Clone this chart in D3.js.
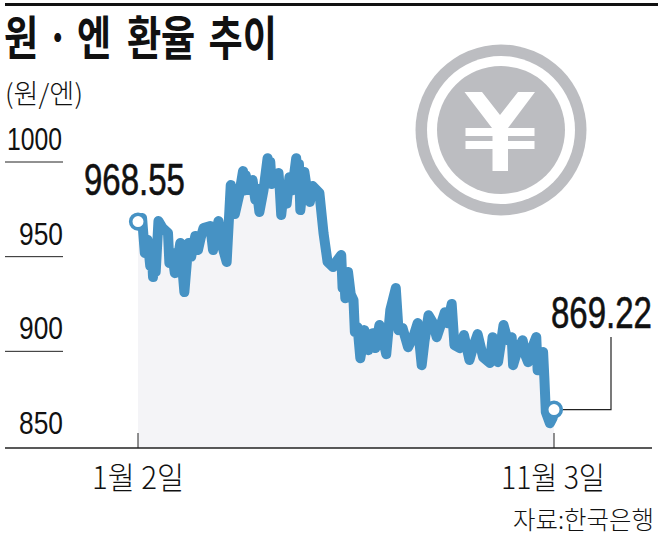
<!DOCTYPE html>
<html><head><meta charset="utf-8">
<script src="https://cdn.jsdelivr.net/npm/d3@7"></script>
<style>html,body{margin:0;padding:0;background:#fff}svg{display:block}
text{font-family:"Liberation Sans",sans-serif;fill:#111}
.ko{font-family:"Noto Sans CJK KR",sans-serif}</style></head>
<body><svg id="c" width="658" height="537"></svg>
<script>
const unit = "(원/엔)";
const source = "자료:한국은행";
const yTicks = [1000, 950, 900, 850];
const xTickDays = [0, 305];
const xTickLabels = ["1월 2일", "11월 3일"];
const days = [0,3,5,7,9,10,11,12,13,15,18,22,23,25,27,29,31,34,37,39,42,44,46,48,53,55,57,59,62,65,68,69,70,71,74,77,78,79,81,84,86,87,89,92,95,96,97,98,101,103,104,105,107,109,111,113,116,117,118,119,122,124,126,128,133,136,139,143,146,149,150,151,152,154,156,158,159,161,163,165,166,169,172,174,177,180,182,185,189,191,194,198,202,205,207,208,210,213,216,219,222,225,227,230,232,236,239,243,246,249,253,258,260,262,264,268,271,274,275,278,282,284,286,289,292,293,297,298,299,302,304,305];
const rates = [968.55,970.4,951.9,958.8,945,955,939.2,950,942,968.8,965.1,962.5,946.6,952,941.3,948,957.2,931.3,957.2,950,960.9,953.5,960,965.1,966.2,953.5,962,968.8,955,947.2,987.8,975,986,972.5,982,995.2,985,993,985.2,990.5,980,986,973.6,985,1002,992,1000,988.4,990,994.2,985,972,985,978,992,985,1002,990,999,974.6,994.7,985,978.9,987.3,983.6,962.5,947.2,944.5,948,950.9,933.4,941.4,928,941.9,930,927,910.2,912.8,896.4,905,911.2,900.6,909.6,901.7,913.9,905,898.5,921.8,933.4,911.2,912.3,902.2,908,914.9,900,892.7,905,919.1,915.4,907.5,914,920.7,914.9,925,903.3,901.7,908.6,895.4,903,909.1,896.9,893.8,907.5,898,894.3,913.9,905.9,907.5,892.7,900,905.9,898,894.3,902,907.5,890,899.6,884.8,867.9,862,864.8,869.22];
const startLabel = "968.55", endLabel = "869.22";

const svg = d3.select("#c");
const x = d3.scaleLinear().domain([0, 305]).range([138, 554]);
const y = d3.scaleLinear().domain([1000, 850]).range([162, 446]);
const data = days.map((d, i) => ({d, v: rates[i]}));
const axisY = 448;

function fit(sel, x0, w, base) {
  const n = sel.node();
  const b = n.getBBox();
  const sx = w / b.width;
  sel.attr("transform", `translate(${x0 - b.x * sx},${base}) scale(${sx},1)`);
  return sel;
}

svg.append("rect").attr("x",5).attr("y",3).attr("width",653).attr("height",3).attr("fill","#111");

const tt = svg.append("text").attr("class","ko").attr("font-size",47).attr("font-weight",700);
tt.append("tspan").text("원 · 엔");
tt.append("tspan").attr("dx",9).text(" 환율");
tt.append("tspan").attr("dx",6).text(" 추이");
fit(tt, 4, 273, 55);

fit(svg.append("text").attr("class","ko").attr("font-size",27).attr("font-weight",300).text(unit), 5, 78, 104);

const coin = svg.append("g");
coin.append("circle").attr("cx",501).attr("cy",130).attr("r",85.5).attr("fill","#bcbdc1");
coin.append("circle").attr("cx",501).attr("cy",130).attr("r",74).attr("fill","#fff");
coin.append("circle").attr("cx",501).attr("cy",130).attr("r",64).attr("fill","#bcbdc1");
coin.append("path").attr("fill","#fff")
  .attr("d","M464.5 92H482L500 115L518 92H535L508 128H534.5V136H508V141H534.5V149H508V171H492.5V149H465.5V141H492.5V136H465.5V128H492L464.5 92Z");

const area = d3.area().x(d=>x(d.d)).y0(axisY).y1(d=>y(d.v));
svg.append("path").datum(data).attr("d",area).attr("fill","#f4f4f7");

svg.selectAll(".g").data(yTicks.slice(0,3)).join("line")
  .attr("x1",5).attr("x2",63).attr("y1",d=>y(d)).attr("y2",d=>y(d)).attr("stroke","#222").attr("stroke-width",1);
yTicks.forEach(t => {
  const s = svg.append("text").attr("font-size",31).text(t);
  fit(s, t===1000?7:19, t===1000?55:44, y(t)-12);
});

svg.append("line").attr("x1",5).attr("x2",652).attr("y1",axisY).attr("y2",axisY).attr("stroke","#222").attr("stroke-width",1.6);
svg.selectAll(".t").data(xTickDays).join("line")
  .attr("x1",d=>x(d)).attr("x2",d=>x(d)).attr("y1",433).attr("y2",axisY).attr("stroke","#222").attr("stroke-width",1);
xTickDays.forEach((d,i) => {
  const s = svg.append("text").attr("class","ko").attr("font-size",31).attr("font-weight",300).text(xTickLabels[i]);
  fit(s, i?501:92, i?104:92, 489);
});
fit(svg.append("text").attr("class","ko").attr("font-size",24.5).attr("font-weight",300).text(source), 513, 141, 529);

const last = data[data.length-1], first = data[0];
svg.append("path").attr("fill","none").attr("stroke","#222").attr("stroke-width",1.2)
  .attr("d",`M${x(last.d)} ${y(last.v)}H611V337`);

const line = d3.line().x(d=>x(d.d)).y(d=>y(d.v)).curve(d3.curveLinear);
svg.append("path").datum(data).attr("d",line).attr("fill","none").attr("stroke","#4692c4")
  .attr("stroke-width",10).attr("stroke-linejoin","round").attr("stroke-linecap","round");

svg.selectAll(".m").data([first,last]).join("circle")
  .attr("cx",d=>x(d.d)).attr("cy",d=>y(d.v)).attr("r",7.3).attr("fill","#fff").attr("stroke","#4692c4").attr("stroke-width",3.6);

fit(svg.append("text").attr("font-size",45).attr("stroke","#111").attr("stroke-width",0.6).text(startLabel), 84, 101, 195);
fit(svg.append("text").attr("font-size",45).attr("stroke","#111").attr("stroke-width",0.6).text(endLabel), 551, 101, 328);
</script></body></html>
